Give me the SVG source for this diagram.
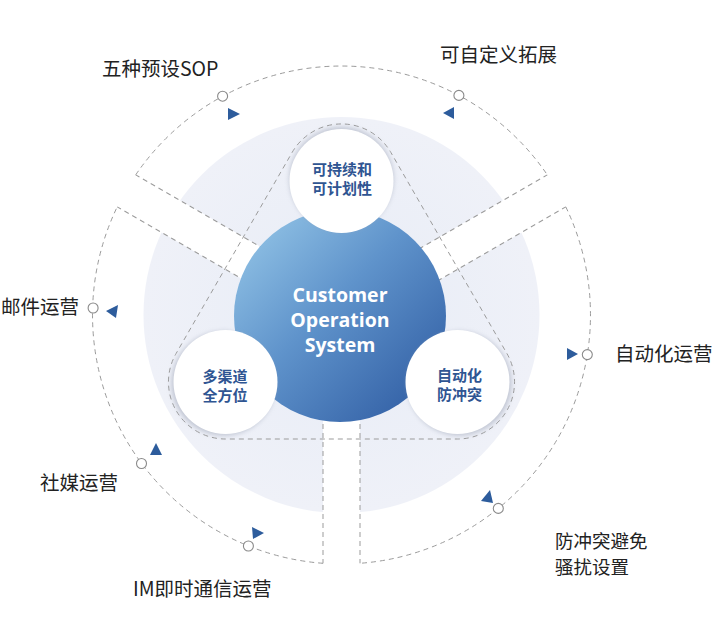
<svg xmlns="http://www.w3.org/2000/svg" width="715" height="640" viewBox="0 0 715 640">
  <style>
    .dash { fill: none; stroke: #9b9b9b; stroke-width: 1; stroke-dasharray: 5 4; }
    .marker { fill: #ffffff; stroke: #8a8a8a; stroke-width: 1.1; }
    .tri { fill: #2d5c9c; }
    .label { font-family: "Noto Sans CJK SC", "Noto Sans", sans-serif; font-size: 19.5px; fill: #222222; }
    .label2 { font-family: "Noto Sans CJK SC", "Noto Sans", sans-serif; font-size: 18.5px; fill: #222222; }
    .inner { font-family: "Noto Sans CJK SC", "Noto Sans", sans-serif; font-size: 15px; font-weight: 700; fill: #2f5592; text-anchor: middle; }
    .core { font-family: "Open Sans", "Noto Sans", sans-serif; font-size: 19.5px; font-weight: 700; fill: #ffffff; text-anchor: middle; }
    .band { fill: #ffffff; }
    .bubble { fill: #ffffff; }
    .shadow { fill: #9aa1b3; opacity: 0.55; }
  </style>
  <defs>
    <linearGradient id="blueGrad" x1="0" y1="0" x2="1" y2="1">
      <stop offset="0" stop-color="#9acbea"/>
      <stop offset="0.45" stop-color="#5f93cb"/>
      <stop offset="1" stop-color="#2a569e"/>
    </linearGradient>
    <radialGradient id="lavGrad" cx="0.5" cy="0.5" r="0.5">
      <stop offset="0" stop-color="#e7ecf6"/>
      <stop offset="1" stop-color="#eff1f8"/>
    </radialGradient>
    <filter id="blur" x="-30%" y="-30%" width="160%" height="160%">
      <feGaussianBlur stdDeviation="2.5"/>
    </filter>
  </defs>

  <rect width="715" height="640" fill="#ffffff"/>

  <!-- background disc -->
  <g id="background">
    <circle cx="341.5" cy="315" r="198" fill="url(#lavGrad)"/>
    <g transform="translate(341.5 315)">
      <rect class="band" x="0" y="-18.5" width="215" height="37" transform="rotate(90)"/>
      <rect class="band" x="0" y="-18.5" width="215" height="37" transform="rotate(210)"/>
      <rect class="band" x="0" y="-18.5" width="215" height="37" transform="rotate(330)"/>
    </g>
  </g>

  <!-- connectors / dashed outlines -->
  <g id="connectors">
    <path class="dash" d="M292.1,152.5 A57,57 0 0 1 390.9,152.5 L506.9,353.5 A57,57 0 0 1 457.5,439 L225.5,439 A57,57 0 0 1 176.1,353.5 Z"/>
    <g transform="translate(341.5 315)">
      <g transform="rotate(90)">
        <line class="dash" x1="100" y1="-18.5" x2="248.3" y2="-18.5"/>
        <line class="dash" x1="100" y1="18.5" x2="248.3" y2="18.5"/>
      </g>
      <g transform="rotate(210)">
        <line class="dash" x1="100" y1="-18.5" x2="248.3" y2="-18.5"/>
        <line class="dash" x1="100" y1="18.5" x2="248.3" y2="18.5"/>
      </g>
      <g transform="rotate(330)">
        <line class="dash" x1="100" y1="-18.5" x2="248.3" y2="-18.5"/>
        <line class="dash" x1="100" y1="18.5" x2="248.3" y2="18.5"/>
      </g>
    </g>
    <path class="dash" d="M135.72,174.83 A249,249 0 0 1 547.28,174.83"/>
    <path class="dash" d="M565.78,206.87 A249,249 0 0 1 360,563.3"/>
    <path class="dash" d="M323,563.3 A249,249 0 0 1 117.22,206.87"/>
    <polygon class="tri" points="228,108 228,120 240,114"/>
    <polygon class="tri" points="454,107 454,119 443,113"/>
    <polygon class="tri" points="106,311 118,305 116,318"/>
    <polygon class="tri" points="156,443 150,455 162,455"/>
    <polygon class="tri" points="252,527 253,539 264,533"/>
    <polygon class="tri" points="481,501 490,490 493,503"/>
    <polygon class="tri" points="567,348 567,360 578,354"/>
  </g>

  <!-- core -->
  <g id="core">
    <circle cx="340" cy="316" r="106" fill="url(#blueGrad)"/>
    <text class="core" x="340" y="302">Customer</text>
    <text class="core" x="340" y="327">Operation</text>
    <text class="core" x="340" y="352">System</text>
  </g>

  <!-- inner bubbles -->
  <g id="bubble-top">
    <circle class="shadow" cx="341.5" cy="179" r="52" filter="url(#blur)"/>
    <circle class="bubble" cx="341.5" cy="181" r="52"/>
    <text class="inner" x="342" y="175">可持续和</text>
    <text class="inner" x="342" y="194">可计划性</text>
  </g>
  <g id="bubble-left">
    <circle class="shadow" cx="223.5" cy="383.5" r="52" filter="url(#blur)"/>
    <circle class="bubble" cx="225.5" cy="382" r="52"/>
    <text class="inner" x="225" y="381.5">多渠道</text>
    <text class="inner" x="225" y="400.5">全方位</text>
  </g>
  <g id="bubble-right">
    <circle class="shadow" cx="459.5" cy="383.5" r="52" filter="url(#blur)"/>
    <circle class="bubble" cx="457.5" cy="382" r="52"/>
    <text class="inner" x="459.5" y="380.5">自动化</text>
    <text class="inner" x="459.5" y="400">防冲突</text>
  </g>

  <!-- outer items -->
  <g id="item-sop">
    <circle class="marker" cx="222.6" cy="96.2" r="5"/>
    <text class="label" x="102" y="76">五种预设SOP</text>
  </g>
  <g id="item-custom">
    <circle class="marker" cx="458.9" cy="95.4" r="5"/>
    <text class="label" x="440" y="62">可自定义拓展</text>
  </g>
  <g id="item-email">
    <circle class="marker" cx="93.1" cy="308" r="5"/>
    <text class="label" x="1" y="314">邮件运营</text>
  </g>
  <g id="item-social">
    <circle class="marker" cx="141.5" cy="463.5" r="5"/>
    <text class="label" x="40" y="490">社媒运营</text>
  </g>
  <g id="item-im">
    <circle class="marker" cx="248.4" cy="546" r="5"/>
    <text class="label" x="133" y="596">IM即时通信运营</text>
  </g>
  <g id="item-antiharass">
    <circle class="marker" cx="498.3" cy="508.4" r="5"/>
    <text class="label2" x="555" y="547.5">防冲突避免</text>
    <text class="label2" x="555" y="573.5">骚扰设置</text>
  </g>
  <g id="item-auto">
    <circle class="marker" cx="587.3" cy="354.6" r="5"/>
    <text class="label" x="615" y="361">自动化运营</text>
  </g>
</svg>
